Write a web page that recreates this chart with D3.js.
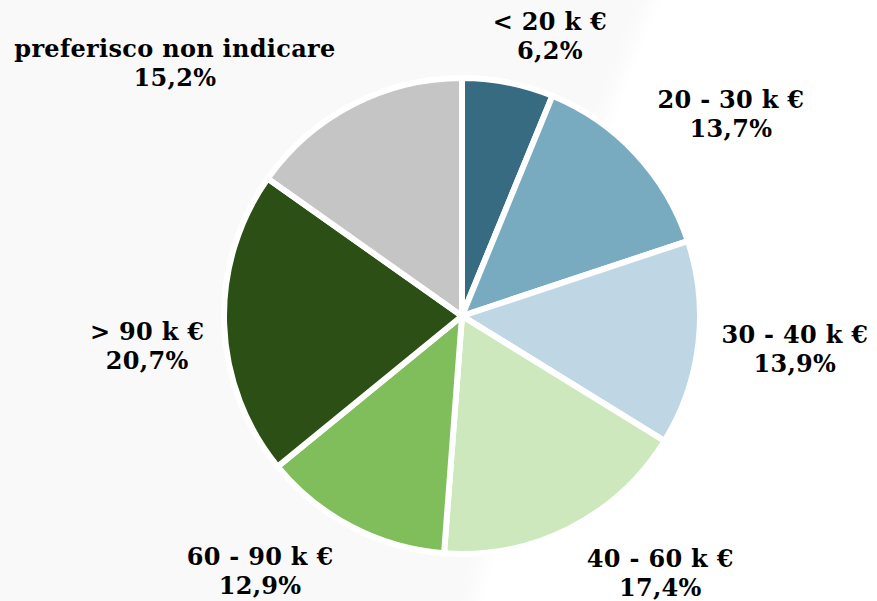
<!DOCTYPE html>
<html>
<head>
<meta charset="utf-8">
<script src="https://cdn.jsdelivr.net/npm/d3@7"></script>
<style>
  html, body { margin: 0; padding: 0; background: #ffffff; }
  svg { display: block; }
</style>
</head>
<body>
<div id="chart"></div>
<script>
// data
const categories = ["< 20 k €", "20 - 30 k €", "30 - 40 k €", "40 - 60 k €", "60 - 90 k €", "> 90 k €", "preferisco non indicare"];
const shares = [6.2, 13.7, 13.9, 17.4, 12.9, 20.7, 15.2];
const colors = ["#376b81", "#78aac0", "#bfd7e4", "#cde8bd", "#80bd5b", "#2c4f16", "#c5c5c5"];

const width = 877;
const height = 601;
const cx = 462, cy = 316;
const radius = 238;
const labelRadius = 320;
// small hand nudges so the labels sit like in the original
const labelNudge = [[26, 32], [35, 14], [15, -6], [53, -30], [-54, -31], [5, 17], [-140, 29]];

const it = d3.formatLocale({ decimal: ",", thousands: ".", grouping: [3], currency: ["", " €"] });
const pct = v => it.format(".1f")(v) + "%";

const svg = d3.select("#chart").append("svg")
  .attr("width", width)
  .attr("height", height)
  .attr("viewBox", [0, 0, width, height]);

// faint grey wash on the left side of the background
const defs = svg.append("defs");
defs.append("filter").attr("id", "soft")
  .attr("x", "-20%").attr("y", "-20%").attr("width", "140%").attr("height", "140%")
  .append("feGaussianBlur").attr("stdDeviation", 8);

svg.append("rect").attr("width", width).attr("height", height).attr("fill", "#ffffff");
svg.append("path")
  .attr("d", "M-20,-20 L660,-20 Q560,200 470,620 L-20,620 Z")
  .attr("fill", "#f9f9f9")
  .attr("filter", "url(#soft)");

const pie = d3.pie().sort(null).value(d => d);
const arcs = pie(shares);
const arc = d3.arc().innerRadius(0).outerRadius(radius);
const labelArc = d3.arc().innerRadius(labelRadius).outerRadius(labelRadius);

const g = svg.append("g").attr("transform", `translate(${cx},${cy})`);

g.append("g")
  .selectAll("path")
  .data(arcs)
  .join("path")
    .attr("d", arc)
    .attr("fill", (d, i) => colors[i])
    .attr("stroke", "#ffffff")
    .attr("stroke-width", 6)
    .attr("stroke-linejoin", "miter");

const labels = g.append("g")
  .attr("font-family", "'DejaVu Serif', serif")
  .attr("font-weight", "bold")
  .attr("font-size", 24)
  .attr("letter-spacing", 0.3)
  .attr("fill", "#000000")
  .attr("text-anchor", "middle")
  .selectAll("text")
  .data(arcs)
  .join("text")
    .attr("transform", (d, i) => {
      const [x, y] = labelArc.centroid(d);
      return `translate(${x + labelNudge[i][0]},${y + labelNudge[i][1]})`;
    });

labels.append("tspan")
  .attr("x", 0)
  .attr("y", -4)
  .text((d, i) => categories[i]);

labels.append("tspan")
  .attr("x", 0)
  .attr("y", 25)
  .text(d => pct(d.data));
</script>
</body>
</html>
